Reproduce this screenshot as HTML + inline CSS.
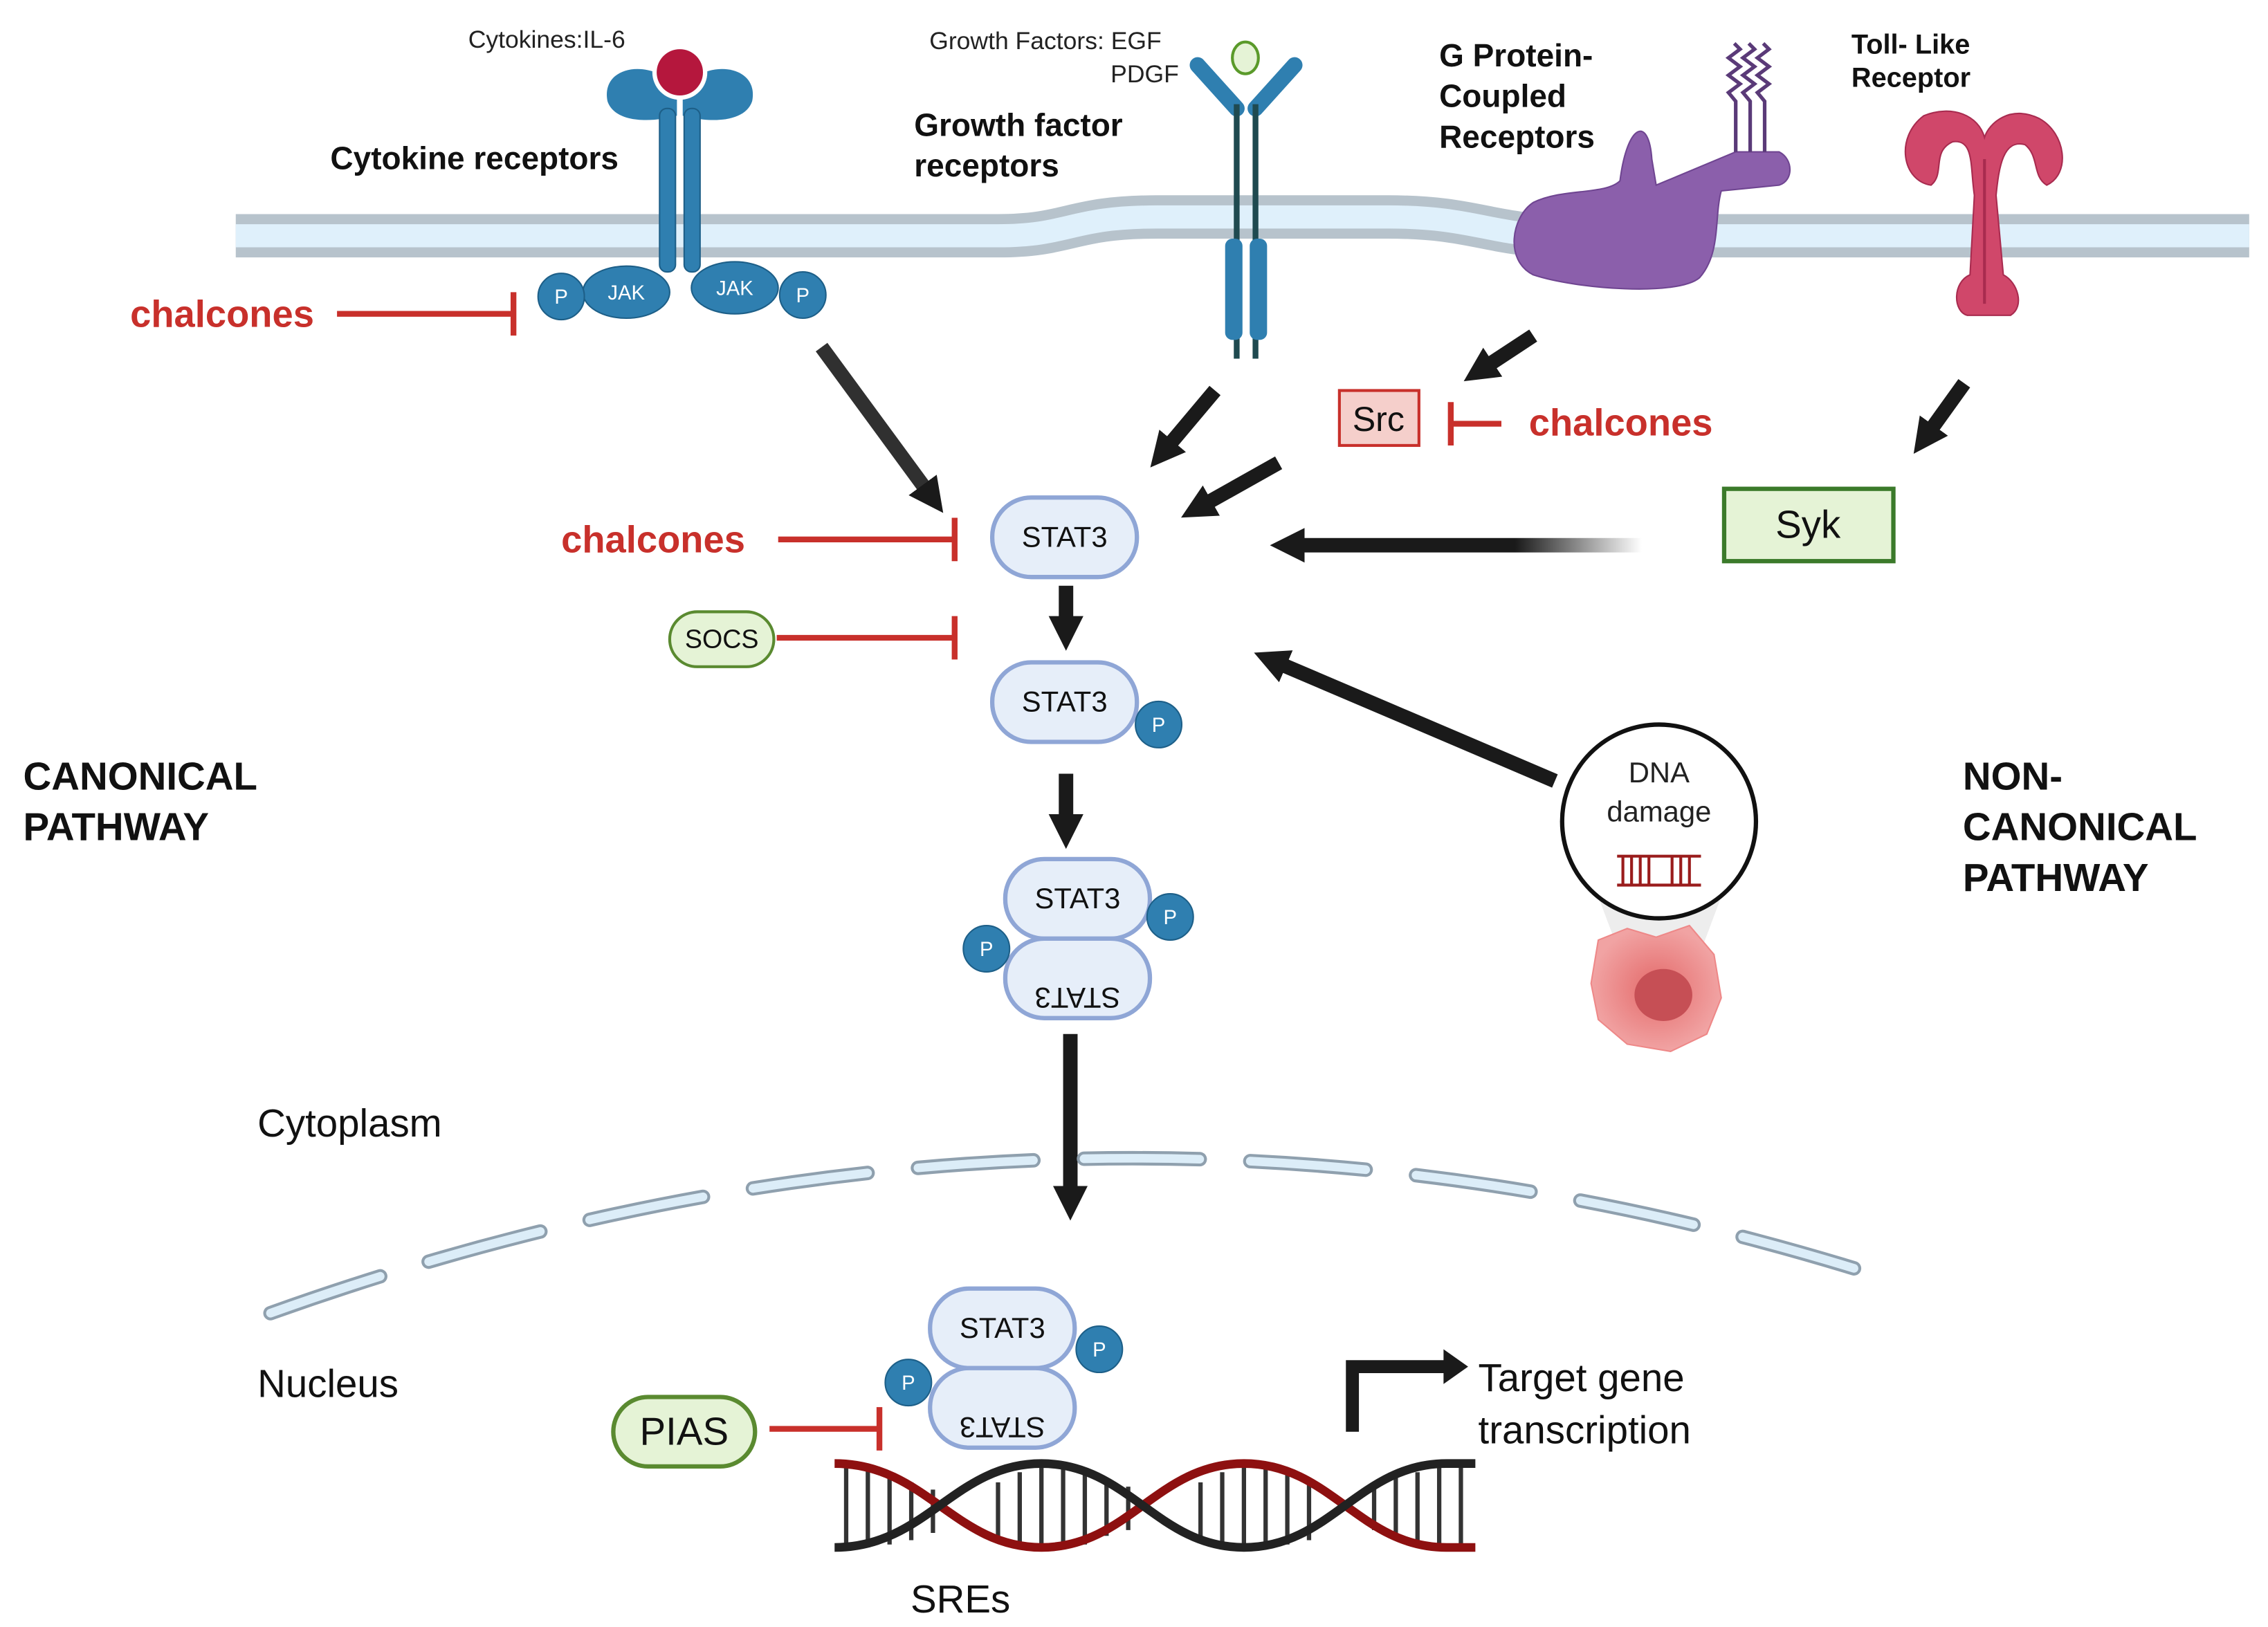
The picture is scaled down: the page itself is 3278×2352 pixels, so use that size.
<!DOCTYPE html>
<html><head><meta charset="utf-8"><style>
html,body{margin:0;padding:0;background:#fff;}
svg{display:block;}
text{font-family:"Liberation Sans",Arial,sans-serif;}
</style></head><body>
<svg width="3278" height="2352" viewBox="0 0 1568 1125" xmlns="http://www.w3.org/2000/svg">
<defs>
<marker id="ah" markerWidth="2.4" markerHeight="2.4" refX="1.2" refY="1.2" orient="auto" markerUnits="strokeWidth"><path d="M0,0 L2.4,1.2 L0,2.4 z" fill="#1a1a1a"/></marker>
<linearGradient id="fadeL" gradientUnits="userSpaceOnUse" x1="1135" y1="0" x2="885" y2="0"><stop offset="0" stop-color="#1a1a1a" stop-opacity="0"/><stop offset="0.35" stop-color="#1a1a1a"/></linearGradient>
<radialGradient id="cell" cx="0.5" cy="0.5" r="0.5"><stop offset="0" stop-color="#e46a6a"/><stop offset="1" stop-color="#f1a3a3"/></radialGradient>
</defs>
<rect width="1568" height="1125" fill="#fff"/>

<!-- membrane -->
<path d="M163,163 L690,163 C740,163 740,150 800,150 L960,150 C1020,150 1030,163 1080,163 L1555,163" fill="none" stroke="#b7c3cc" stroke-width="30"/>
<path d="M163,163 L690,163 C740,163 740,150 800,150 L960,150 C1020,150 1030,163 1080,163 L1555,163" fill="none" stroke="#dff0fb" stroke-width="16"/>

<!-- cytokine receptor -->
<path d="M420,70 C415,45 450,40 468,60 L468,80 C450,85 425,85 420,70 Z" fill="#2f7fb0"/>
<path d="M520,70 C525,45 490,40 472,60 L472,80 C490,85 515,85 520,70 Z" fill="#2f7fb0"/>
<rect x="456" y="75" width="11" height="113" rx="5" fill="#2f7fb0" stroke="#1d5f88"/>
<rect x="473" y="75" width="11" height="113" rx="5" fill="#2f7fb0" stroke="#1d5f88"/>
<circle cx="470" cy="50" r="19" fill="#fff"/><circle cx="470" cy="50" r="16" fill="#b5173d"/>
<ellipse cx="433" cy="202" rx="30" ry="18" fill="#2f7fb0" stroke="#1d5f88"/><text x="433" y="207" font-size="14" fill="#fff" text-anchor="middle">JAK</text>
<ellipse cx="508" cy="199" rx="30" ry="18" fill="#2f7fb0" stroke="#1d5f88"/><text x="508" y="204" font-size="14" fill="#fff" text-anchor="middle">JAK</text>
<circle cx="388" cy="205" r="16" fill="#2f7fb0" stroke="#1d5f88"/><text x="388" y="210" font-size="14" fill="#fff" text-anchor="middle">P</text>
<circle cx="555" cy="204" r="16" fill="#2f7fb0" stroke="#1d5f88"/><text x="555" y="209" font-size="14" fill="#fff" text-anchor="middle">P</text>
<text x="378" y="33" font-size="17" text-anchor="middle" fill="#222">Cytokines:IL-6</text>
<text x="328" y="117" font-size="22" font-weight="bold" text-anchor="middle" fill="#111">Cytokine receptors</text>

<!-- growth factor receptor -->
<path d="M828,45 L855,75" stroke="#2f7fb0" stroke-width="11" stroke-linecap="round"/>
<path d="M895,45 L868,75" stroke="#2f7fb0" stroke-width="11" stroke-linecap="round"/>
<ellipse cx="861" cy="40" rx="9" ry="11" fill="#e5f3d6" stroke="#5a9a2a" stroke-width="2"/>
<line x1="855" y1="72" x2="855" y2="248" stroke="#1f4a50" stroke-width="4"/>
<line x1="868" y1="72" x2="868" y2="248" stroke="#1f4a50" stroke-width="4"/>
<rect x="847" y="165" width="12" height="70" rx="5" fill="#2f7fb0"/>
<rect x="864" y="165" width="12" height="70" rx="5" fill="#2f7fb0"/>
<text x="803" y="34" font-size="17" text-anchor="end" fill="#222">Growth Factors: EGF</text>
<text x="815" y="57" font-size="17" text-anchor="end" fill="#222">PDGF</text>
<text x="632" y="94" font-size="22" font-weight="bold" fill="#111">Growth factor</text>
<text x="632" y="122" font-size="22" font-weight="bold" fill="#111">receptors</text>

<!-- GPCR -->
<path d="M1060,140 C1080,130 1110,135 1120,125 C1125,85 1140,80 1142,110 L1145,128 L1200,105 L1230,105 C1240,110 1240,125 1230,128 L1190,132 C1185,150 1190,175 1175,192 C1160,205 1090,200 1060,190 C1040,180 1045,150 1060,140 Z" fill="#8b5fab" stroke="#6f4591"/>
<g fill="none" stroke="#5a3a78" stroke-width="2.5">
<path d="M1200,105 L1200,70 l-5,-6 l8,-6 l-8,-6 l8,-6 l-8,-6 l8,-6 l-4,-4"/>
<path d="M1210,105 L1210,70 l-5,-6 l8,-6 l-8,-6 l8,-6 l-8,-6 l8,-6 l-4,-4"/>
<path d="M1220,105 L1220,70 l-5,-6 l8,-6 l-8,-6 l8,-6 l-8,-6 l8,-6 l-4,-4"/>
</g>
<text x="995" y="46" font-size="22" font-weight="bold" fill="#111">G Protein-</text>
<text x="995" y="74" font-size="22" font-weight="bold" fill="#111">Coupled</text>
<text x="995" y="102" font-size="22" font-weight="bold" fill="#111">Receptors</text>

<!-- TLR -->
<path d="M1330,80 C1310,95 1315,125 1335,128 C1345,120 1335,105 1350,98 C1365,96 1362,115 1365,135 L1362,190 C1350,195 1350,215 1360,218 L1390,218 C1400,212 1395,195 1385,190 L1380,135 C1382,115 1385,96 1400,100 C1410,108 1405,122 1415,128 C1432,120 1428,92 1410,82 C1390,72 1375,85 1372,95 C1368,80 1350,72 1330,80 Z" fill="#d0476a" stroke="#a82b4f"/>
<line x1="1372" y1="110" x2="1372" y2="210" stroke="#a82b4f" stroke-width="2"/>
<text x="1280" y="37" font-size="19" font-weight="bold" fill="#111">Toll- Like</text>
<text x="1280" y="60" font-size="19" font-weight="bold" fill="#111">Receptor</text>

<!-- chalcones inhibitors -->
<text x="90" y="226" font-size="26" font-weight="bold" fill="#c8302b">chalcones</text>
<line x1="233" y1="217" x2="355" y2="217" stroke="#c8302b" stroke-width="4"/><line x1="355" y1="202" x2="355" y2="232" stroke="#c8302b" stroke-width="4"/>
<text x="388" y="382" font-size="26" font-weight="bold" fill="#c8302b">chalcones</text>
<line x1="538" y1="373" x2="660" y2="373" stroke="#c8302b" stroke-width="4"/><line x1="660" y1="358" x2="660" y2="388" stroke="#c8302b" stroke-width="4"/>
<text x="1057" y="301" font-size="26" font-weight="bold" fill="#c8302b">chalcones</text>
<line x1="1003" y1="293" x2="1038" y2="293" stroke="#c8302b" stroke-width="4"/><line x1="1003" y1="278" x2="1003" y2="308" stroke="#c8302b" stroke-width="4"/>
<rect x="463" y="423" width="72" height="38" rx="19" fill="#e5f3d6" stroke="#5a8a30" stroke-width="2"/><text x="499" y="448" font-size="18" text-anchor="middle" fill="#111">SOCS</text>
<line x1="537" y1="441" x2="660" y2="441" stroke="#c8302b" stroke-width="4"/><line x1="660" y1="426" x2="660" y2="456" stroke="#c8302b" stroke-width="4"/>

<!-- Src / Syk -->
<rect x="926" y="270" width="55" height="38" fill="#f5cfcb" stroke="#c8302b" stroke-width="2"/><text x="953" y="298" font-size="24" text-anchor="middle" fill="#111">Src</text>
<rect x="1192" y="338" width="117" height="50" fill="#e5f3d6" stroke="#3b7a2a" stroke-width="3"/><text x="1250" y="372" font-size="27" text-anchor="middle" fill="#111">Syk</text>

<!-- arrows -->
<g stroke-width="10" fill="none" marker-end="url(#ah)">
<line x1="568" y1="240" x2="645" y2="345" stroke="#1a1a1a" stroke-opacity="0.9"/>
<line x1="840" y1="270" x2="803" y2="314" stroke="#1a1a1a"/>
<line x1="884" y1="320" x2="827" y2="352" stroke="#1a1a1a"/>
<line x1="1060" y1="232" x2="1022" y2="257" stroke="#1a1a1a"/>
<line x1="1358" y1="265" x2="1330" y2="304" stroke="#1a1a1a"/>
<line x1="1135" y1="377" x2="890" y2="377" stroke="url(#fadeL)"/>
<line x1="1075" y1="540" x2="878" y2="456" stroke="#1a1a1a"/>
<line x1="737" y1="405" x2="737" y2="438" stroke="#1a1a1a"/>
<line x1="737" y1="535" x2="737" y2="575" stroke="#1a1a1a"/>
<line x1="740" y1="715" x2="740" y2="832" stroke="#1a1a1a"/>
</g>

<!-- STAT3s -->
<g font-size="20" fill="#111" text-anchor="middle">
<rect x="686" y="344" width="100" height="55" rx="27" fill="#e6eef9" stroke="#8fa6d6" stroke-width="3"/><text x="736" y="378">STAT3</text>
<rect x="686" y="458" width="100" height="55" rx="27" fill="#e6eef9" stroke="#8fa6d6" stroke-width="3"/><text x="736" y="492">STAT3</text>
<rect x="695" y="594" width="100" height="55" rx="27" fill="#e6eef9" stroke="#8fa6d6" stroke-width="3"/><text x="745" y="628">STAT3</text>
<rect x="695" y="649" width="100" height="55" rx="27" fill="#e6eef9" stroke="#8fa6d6" stroke-width="3"/><text x="745" y="669" transform="rotate(180 745 676)">STAT3</text>
<rect x="643" y="891" width="100" height="55" rx="27" fill="#e6eef9" stroke="#8fa6d6" stroke-width="3"/><text x="693" y="925">STAT3</text>
<rect x="643" y="946" width="100" height="55" rx="27" fill="#e6eef9" stroke="#8fa6d6" stroke-width="3"/><text x="693" y="966" transform="rotate(180 693 973)">STAT3</text>
</g>
<g font-size="14" fill="#fff" text-anchor="middle">
<circle cx="801" cy="501" r="16" fill="#2f7fb0" stroke="#1d5f88"/><text x="801" y="506">P</text>
<circle cx="809" cy="634" r="16" fill="#2f7fb0" stroke="#1d5f88"/><text x="809" y="639">P</text>
<circle cx="682" cy="656" r="16" fill="#2f7fb0" stroke="#1d5f88"/><text x="682" y="661">P</text>
<circle cx="760" cy="933" r="16" fill="#2f7fb0" stroke="#1d5f88"/><text x="760" y="938">P</text>
<circle cx="628" cy="956" r="16" fill="#2f7fb0" stroke="#1d5f88"/><text x="628" y="961">P</text>
</g>

<!-- DNA damage -->
<path d="M1105,620 L1190,620 L1175,660 L1120,660 Z" fill="#e8e8e8" opacity="0.8"/>
<path d="M1105,650 L1125,642 L1145,648 L1168,640 L1185,660 L1190,690 L1180,715 L1155,727 L1125,722 L1105,705 L1100,680 Z" fill="url(#cell)" stroke="#e88" />
<ellipse cx="1150" cy="688" rx="20" ry="18" fill="#c64f55"/>
<circle cx="1147" cy="568" r="67" fill="#fff" stroke="#111" stroke-width="3"/>
<text x="1147" y="541" font-size="20" text-anchor="middle" fill="#222">DNA</text>
<text x="1147" y="568" font-size="20" text-anchor="middle" fill="#222">damage</text>
<g stroke="#9a1c1c" stroke-width="2"><line x1="1118" y1="592" x2="1176" y2="592"/><line x1="1118" y1="612" x2="1176" y2="612"/>
<path d="M1122,592 v20 M1128,592 v20 M1134,592 v20 M1140,592 v20 M1156,592 v20 M1162,592 v20 M1168,592 v20"/></g>

<!-- pathway labels -->
<g font-size="27" font-weight="bold" fill="#111">
<text x="16" y="546">CANONICAL</text><text x="16" y="581">PATHWAY</text>
<text x="1357" y="546">NON-</text><text x="1357" y="581">CANONICAL</text><text x="1357" y="616">PATHWAY</text>
</g>
<text x="178" y="786" font-size="27" fill="#111">Cytoplasm</text>
<text x="178" y="966" font-size="27" fill="#111">Nucleus</text>

<!-- nuclear envelope -->
<path d="M187,908 Q740,710 1285,878" fill="none" stroke="#8fa0ae" stroke-width="10" stroke-dasharray="80,35" stroke-linecap="round"/>
<path d="M187,908 Q740,710 1285,878" fill="none" stroke="#dcedf8" stroke-width="6" stroke-dasharray="80,35" stroke-linecap="round"/>

<!-- PIAS -->
<rect x="424" y="966" width="98" height="48" rx="24" fill="#e5f3d6" stroke="#5a8a30" stroke-width="3"/><text x="473" y="999" font-size="27" text-anchor="middle" fill="#111">PIAS</text>
<line x1="532" y1="988" x2="608" y2="988" stroke="#c8302b" stroke-width="4"/><line x1="608" y1="973" x2="608" y2="1003" stroke="#c8302b" stroke-width="4"/>

<!-- DNA helix -->
<g stroke="#333" stroke-width="3">
<path d="M585,1015 v55 M600,1015 v55 M615,1018 v50 M630,1025 v40 M645,1030 v30 M690,1025 v40 M705,1018 v50 M720,1015 v55 M735,1015 v55 M750,1018 v50 M765,1022 v40 M780,1028 v30 M830,1025 v40 M845,1018 v50 M860,1015 v55 M875,1015 v55 M890,1018 v50 M905,1025 v40 M950,1028 v30 M965,1022 v40 M980,1018 v50 M995,1015 v55 M1010,1015 v55"/>
</g>
<path d="M577,1012 C640,1012 660,1070 720,1070 C780,1070 800,1012 860,1012 C920,1012 940,1070 1000,1070 L1020,1070" fill="none" stroke="#8e1010" stroke-width="6"/>
<path d="M577,1070 C640,1070 660,1012 720,1012 C780,1012 800,1070 860,1070 C920,1070 940,1012 1000,1012 L1020,1012" fill="none" stroke="#222" stroke-width="6"/>
<text x="664" y="1115" font-size="27" text-anchor="middle" fill="#111">SREs</text>

<!-- transcription arrow -->
<path d="M935,990 L935,945 L1000,945" fill="none" stroke="#1a1a1a" stroke-width="9"/>
<path d="M998,933 L1015,945 L998,957 Z" fill="#1a1a1a"/>
<text x="1022" y="962" font-size="27" fill="#111">Target gene</text>
<text x="1022" y="998" font-size="27" fill="#111">transcription</text>
</svg>
</body></html>
